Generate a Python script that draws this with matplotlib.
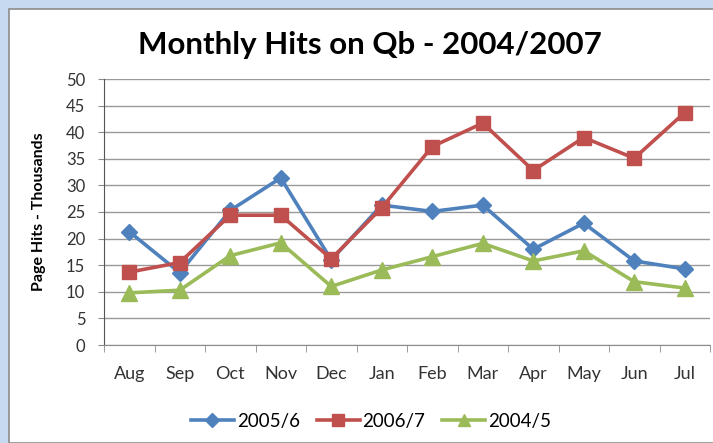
import matplotlib.pyplot as plt
from matplotlib.patches import Rectangle

plt.rcParams["font.family"] = ["Lato", "DejaVu Sans"]

months = ["Aug", "Sep", "Oct", "Nov", "Dec", "Jan", "Feb", "Mar", "Apr", "May", "Jun", "Jul"]
hits_2005_6 = [21.3, 13.6, 25.3, 31.4, 16.0, 26.3, 25.1, 26.3, 18.0, 22.9, 15.8, 14.3]
hits_2006_7 = [13.7, 15.5, 24.4, 24.4, 16.2, 25.8, 37.3, 41.7, 32.8, 39.0, 35.1, 43.7]
hits_2004_5 = [9.8, 10.3, 16.8, 19.2, 11.0, 14.1, 16.6, 19.1, 15.8, 17.7, 11.9, 10.7]

W, H = 713, 443
fig = plt.figure(figsize=(W / 100, H / 100), dpi=100)
fig.patch.set_facecolor("#c6d9f1")
# white chart panel, kept behind the axes
fig.add_artist(Rectangle((9 / W, 0), 1, 1 - 9 / H, transform=fig.transFigure,
                         facecolor="white", edgecolor="#8c8c8c", lw=1.2, zorder=-5))

ax = fig.add_axes([104 / W, 1 - 345 / H, 606 / W, 266 / H])
ax.patch.set_alpha(0)
x = range(len(months))
ax.plot(x, hits_2005_6, color="#4f81bd", lw=2.6, marker="D", ms=8.5, label="2005/6")
ax.plot(x, hits_2006_7, color="#c0504d", lw=2.6, marker="s", ms=10, label="2006/7")
ax.plot(x, hits_2004_5, color="#9bbb59", lw=2.6, marker="^", ms=11, label="2004/5")

ax.set_xlim(-0.5, len(months) - 0.5)
ax.set_ylim(0, 50)
ax.set_yticks(range(0, 51, 5))
ax.set_xticks(x)
ax.set_xticklabels(months)
ax.set_xticks([i - 0.5 for i in range(len(months) + 1)], minor=True)
ax.tick_params(axis="x", which="major", length=0, pad=15, labelsize=13, labelcolor="#333333")
ax.tick_params(axis="x", which="minor", length=5, color="#8c8c8c")
ax.tick_params(axis="y", length=4.5, color="#8c8c8c", labelsize=12, labelcolor="#333333", pad=9)
ax.yaxis.grid(True, color="#999999", lw=1)
ax.set_axisbelow(True)
for s in ["top", "right"]:
    ax.spines[s].set_visible(False)
ax.spines["left"].set_color("#555555")
ax.spines["bottom"].set_color("#8c8c8c")

ax.set_ylabel("Page Hits - Thousands", fontsize=11.5, fontweight="bold")
ax.yaxis.set_label_coords((46 - 104) / 606, 0.5)
fig.text(370 / W, 1 - 54 / H, "Monthly Hits on Qb - 2004/2007", ha="center", va="baseline",
         fontsize=22.5, fontweight="bold")

fig.legend(loc="center", bbox_to_anchor=(371 / W, 1 - 421 / H), ncol=3, frameon=False,
           fontsize=13.5, handlelength=2.3, handletextpad=0.15, columnspacing=0.9,
           markerscale=0.8)

fig.savefig("out.png", dpi=100)
